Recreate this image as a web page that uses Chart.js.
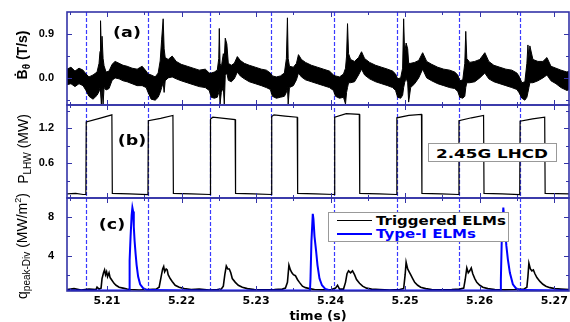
<!DOCTYPE html>
<html>
<head>
<meta charset="utf-8">
<script src="https://cdn.jsdelivr.net/npm/chart.js@4.4.1/dist/chart.umd.min.js"></script>
<style>
  html, body { margin: 0; padding: 0; background: #fff; }
  #wrap { position: relative; width: 570px; height: 322px; overflow: hidden; }
  #wrap canvas { position: absolute; left: 0; top: 0; }
  .ytitle { position: absolute; white-space: nowrap; line-height: 1; color: #000;
            font-family: "Liberation Sans", Arial, sans-serif; font-size: 14px;
            transform: translate(-50%, -50%) rotate(-90deg); }
  .ytitle sub { font-size: 10px; vertical-align: -3px; }
  .ytitle sup { font-size: 9px; vertical-align: 6px; }
  .tag { position: absolute; white-space: nowrap; line-height: 1; color: #000;
         font: bold 14px "DejaVu Sans", sans-serif;
         transform: translate(-50%, -50%) scaleX(1.25); }
  .box { position: absolute; background: #fff; border: 1px solid #999; box-sizing: border-box; }
  .leg-line { position: absolute; height: 0; }
  .leg-text { position: absolute; white-space: nowrap; line-height: 1;
              font: bold 12px "DejaVu Sans", sans-serif; transform-origin: 0 50%;
              transform: translateY(-50%) scaleX(1.25); }
</style>
</head>
<body>
<div id="wrap">
  <canvas id="chart" width="570" height="322"></canvas>

  <div class="ytitle" style="left:23px; top:55px; font-weight:bold;">&#7682;<sub>&theta;</sub> (T/s)</div>
  <div class="ytitle" style="left:24px; top:149px;">P<sub>LHW</sub> (MW)</div>
  <div class="ytitle" style="left:23px; top:246px;">q<sub>peak-Div</sub> (MW/m<sup>2</sup>)</div>

  <div class="tag" style="left:127px; top:32px;">(a)</div>
  <div class="tag" style="left:132px; top:140px;">(b)</div>
  <div class="tag" style="left:112px; top:224px;">(c)</div>

  <div class="box" style="left:428px; top:143px; width:129px; height:19px;"></div>
  <div class="tag" style="left:492px; top:152.5px; font-size:13px; transform:translate(-50%,-50%) scaleX(1.29);">2.45G LHCD</div>

  <div class="box" style="left:328px; top:212px; width:181px; height:30px;"></div>
  <div class="leg-line" style="left:337px; top:220px; width:35px; border-top:1.5px solid #000;"></div>
  <div class="leg-text" style="left:376px; top:221px; color:#000;">Triggered ELMs</div>
  <div class="leg-line" style="left:337px; top:232.5px; width:35px; border-top:2px solid #0000ff;"></div>
  <div class="leg-text" style="left:376px; top:233.5px; color:#0000ff;">Type-I ELMs</div>
</div>

<script>
// time values are written as ms after 5.2 s
const T0 = 5.2;

// LHCD switch-on times (blue dashed markers)
const lhcdOnMs = [7.19, 15.52, 23.86, 32.06, 40.52, 48.86, 57.19, 65.39];

// (a) dB/dt signal, read as the upper and lower edge of the noisy trace
const bdotMs = [4.64,5.17,5.71,6.25,6.79,7.19,7.59,8.13,8.67,8.94,9.07,9.14,9.25,9.34,9.48,9.61,9.88,10.28,10.69,11.09,11.63,12.16,12.70,13.37,14.05,14.72,15.26,15.52,
  15.93,16.47,16.87,17.14,17.34,17.54,17.67,17.81,18.21,18.75,19.29,19.96,20.77,21.57,22.38,23.19,23.72,
  23.99,24.40,24.80,25.00,25.07,25.17,25.34,25.61,25.74,25.87,26.08,26.28,26.68,27.08,27.49,27.89,28.43,29.10,29.91,30.71,31.38,31.92,
  32.19,32.73,33.27,33.80,34.07,34.21,34.31,34.48,35.01,35.42,35.69,36.09,36.63,37.43,38.24,39.05,39.85,40.39,
  40.66,41.20,41.73,42.00,42.14,42.27,42.41,42.68,43.21,43.75,44.15,44.56,45.23,46.04,46.84,47.65,48.32,48.72,
  48.99,49.40,49.66,49.80,49.93,50.13,50.34,50.47,50.74,51.28,51.82,52.35,52.89,53.56,54.37,55.18,55.98,56.65,57.06,
  57.33,57.73,58.00,58.13,58.27,58.67,59.34,60.01,60.69,61.22,61.90,62.70,63.51,64.31,64.99,65.26,
  65.66,66.06,66.33,66.47,66.60,66.73,67.14,67.81,68.48,69.02,69.56,70.23,70.90,71.71,71.98];
const bdotHi = [.18,.22,.14,.20,.16,.08,.02,.06,.12,.30,.55,1.18,.50,.86,.40,.25,.12,.14,.28,.34,.30,.26,.24,.20,.18,.24,.14,.08,
  .06,.02,.10,.35,.80,1.22,.60,.42,.38,.45,.34,.28,.24,.20,.16,.18,.10,
  .10,.12,.16,.40,1.02,.30,.22,.50,.40,.82,.70,.30,.26,.30,.44,.36,.30,.26,.22,.18,.16,.10,
  .04,.02,.04,.10,.40,1.24,.40,.24,.22,.30,.48,.38,.32,.26,.22,.18,.14,.06,
  .04,.02,.08,.20,.45,1.12,.50,.38,.34,.42,.54,.40,.32,.26,.22,.18,.14,.08,
  -.02,.00,.20,1.22,.50,.72,.60,.30,.30,.32,.36,.52,.34,.28,.22,.18,.16,.12,.06,
  -.06,-.04,.30,.96,.40,.32,.34,.38,.52,.34,.26,.22,.18,.16,.10,.04,
  -.10,-.08,.30,.68,.40,.66,.38,.34,.34,.42,.24,.20,.16,.12,.14];
const bdotLo = [-.14,-.12,-.18,-.12,-.16,-.26,-.38,-.44,-.36,-.28,-.20,-.30,-.54,-.20,-.54,-.20,-.25,-.22,-.05,.00,-.02,-.06,-.08,-.12,-.16,-.16,-.20,-.30,
  -.44,-.46,-.40,-.30,-.20,-.10,-.30,-.06,.00,.02,-.02,-.06,-.10,-.14,-.18,-.20,-.26,
  -.40,-.42,-.40,-.30,-.20,-.54,-.30,-.20,-.54,.05,.10,-.05,-.08,-.02,.12,.04,-.02,-.08,-.12,-.16,-.20,-.24,
  -.38,-.42,-.40,-.38,-.30,-.20,-.54,-.20,-.16,-.04,.10,.02,-.04,-.08,-.12,-.16,-.20,-.26,
  -.38,-.42,-.40,-.54,-.30,-.20,-.10,-.10,-.08,.06,.18,.06,-.02,-.08,-.12,-.16,-.20,-.26,
  -.40,-.42,-.36,-.20,-.10,.00,-.10,-.50,-.20,-.12,.00,.18,.00,-.06,-.12,-.16,-.20,-.22,-.28,
  -.40,-.42,-.38,-.20,-.10,-.10,-.08,.00,.10,-.02,-.08,-.12,-.16,-.20,-.24,-.30,
  -.42,-.46,-.40,-.30,-.20,-.10,-.10,-.06,.00,.06,-.06,-.12,-.20,-.26,-.24];

// (b) LHW power (MW)
const lhwMs = [4.64,5.8,6.8,7.17,7.22,9.0,10.66,10.72,13.0,15.50,15.55,17.2,18.85,18.91,21.3,23.84,23.89,24.2,25.7,27.19,27.25,29.7,
  32.05,32.10,32.4,33.9,35.52,35.58,38.0,40.50,40.55,42.1,43.85,43.91,46.5,48.84,48.89,50.5,52.19,52.25,54.8,
  57.17,57.22,58.9,60.52,60.58,63.0,65.37,65.42,67.1,68.72,68.78,71.98];
const lhwPower = [.07,.08,.06,.06,1.31,1.37,1.43,.08,.07,.06,1.33,1.37,1.42,.08,.07,.06,1.36,1.39,1.37,1.35,.08,.07,
  .06,1.40,1.43,1.41,1.39,.08,.07,.06,1.39,1.45,1.44,.08,.07,.06,1.38,1.42,1.44,.08,.07,
  .06,1.33,1.38,1.42,.08,.07,.06,1.32,1.36,1.39,.08,.07];

// (c) peak divertor heat flux (MW/m^2)
const trigMs = [4.64,5.58,6.52,7.59,8.53,8.67,8.94,9.21,9.34,9.54,9.68,9.81,9.95,10.08,10.28,10.42,10.69,10.95,11.22,11.63,12.16,12.70,13.10,
  14.31,15.66,16.60,17.00,17.27,17.47,17.61,17.74,17.94,18.08,18.21,18.48,18.75,19.15,19.69,20.36,21.30,22.38,23.72,24.80,
  25.34,25.61,25.81,26.01,26.21,26.41,26.61,26.81,27.22,27.62,28.16,28.83,29.77,31.12,32.46,33.53,33.94,
  34.21,34.41,34.61,34.81,35.01,35.28,35.55,35.82,36.22,36.63,37.16,37.84,39.18,40.12,40.66,40.93,41.20,41.73,
  42.00,42.20,42.41,42.68,42.94,43.21,43.48,43.88,44.29,44.82,45.50,46.57,47.92,49.26,49.80,
  50.00,50.13,50.34,50.54,50.74,51.01,51.28,51.68,52.08,52.76,53.56,54.91,56.25,57.33,57.86,
  58.06,58.27,58.47,58.67,58.87,59.07,59.34,59.61,60.01,60.42,61.09,62.03,63.37,64.72,65.93,66.33,
  66.47,66.60,66.80,67.00,67.20,67.41,67.67,68.08,68.48,68.88,69.42,70.09,70.90,71.98];
const trigQ = [.45,.55,.40,.50,.45,.70,.50,.60,1.6,2.2,2.5,2.0,2.3,1.8,2.2,1.7,1.4,1.1,.9,.7,.6,.5,.45,
  .40,.45,.50,.70,1.8,2.6,2.85,2.3,2.6,2.5,2.0,1.6,1.3,.9,.7,.55,.45,.50,.40,.45,
  .50,.80,2.0,2.9,2.6,2.6,2.2,1.6,1.2,.9,.7,.55,.45,.42,.45,.50,.60,
  1.2,3.0,2.5,2.2,2.0,1.9,1.5,1.2,.8,.65,.55,.45,.42,.45,.60,.90,.50,.50,
  1.2,2.1,2.4,2.2,2.4,2.0,1.5,1.1,.8,.6,.5,.45,.40,.45,.55,
  2.0,3.3,2.6,2.3,2.0,1.6,1.2,.9,.7,.55,.45,.42,.45,.50,.60,
  1.5,2.7,2.2,2.4,2.7,2.1,1.6,1.2,.9,.7,.55,.45,.42,.45,.50,.70,
  1.8,3.2,2.6,2.4,2.5,2.1,1.7,1.3,1.0,.8,.65,.55,.50,.45];
const typeIMs = [4.64,8.94,12.97,13.04,13.17,13.31,13.41,13.51,13.60,13.71,13.84,13.98,14.18,14.45,14.85,15.39,22.38,29.10,
  37.23,37.30,37.43,37.61,37.70,37.84,38.04,38.24,38.51,38.84,39.31,39.85,49.26,
  62.77,62.84,62.97,63.17,63.37,63.58,63.78,64.05,64.45,64.85,65.39,71.98];
const typeIQ = [.35,.35,.35,3.5,6.0,8.2,9.0,8.6,7.0,5.5,4.2,3.0,1.8,1.0,.6,.4,.35,.35,
  .35,1.5,5.5,8.35,7.8,6.0,4.6,3.0,1.6,.9,.5,.38,.35,
  .35,1.5,6.0,9.0,7.0,5.0,3.6,2.2,1.0,.6,.4,.35];

// axis ticks
const xTickValues = [5.21, 5.22, 5.23, 5.24, 5.25, 5.26, 5.27];
const xMinorValues = [5.205, 5.215, 5.225, 5.235, 5.245, 5.255, 5.265];
const yaLabels = [0, 0.9], yaMarks = [-0.45, 0.45];
const ybLabels = [0.6, 1.2], ybMarks = [0.3, 0.9, 1.5];
const ycLabels = [4, 8], ycMarks = [2, 6];

const frameColor = '#3434a8';
const dashColor = '#3a3aff';

function pts(ms, vals) {
  return ms.map((m, i) => ({ x: T0 + m / 1000, y: vals[i] }));
}

const panelDecor = {
  id: 'panelDecor',
  beforeDatasetsDraw(chart) {
    const { ctx, scales } = chart;
    const x = scales.x;
    ctx.save();
    ctx.strokeStyle = dashColor;
    ctx.lineWidth = 1.2;
    ctx.setLineDash([4, 2]);
    lhcdOnMs.forEach(m => {
      const px = Math.round(x.getPixelForValue(T0 + m / 1000)) + 0.5;
      ctx.beginPath();
      ctx.moveTo(px, scales.ya.top);
      ctx.lineTo(px, scales.yc.bottom);
      ctx.stroke();
    });
    ctx.restore();
  },
  afterDatasetsDraw(chart) {
    const { ctx, scales } = chart;
    const x = scales.x;
    const L = x.left, R = x.right;
    ctx.save();
    ctx.strokeStyle = frameColor;
    ctx.lineWidth = 1;
    const panels = [[scales.ya, yaLabels, yaMarks], [scales.yb, ybLabels, ybMarks], [scales.yc, ycLabels, ycMarks]];
    panels.forEach(([s, major, minor]) => {
      ctx.beginPath();
      const tick = (v, len) => {
        const py = Math.round(s.getPixelForValue(v)) + 0.5;
        ctx.moveTo(L, py); ctx.lineTo(L + len, py);
        ctx.moveTo(R, py); ctx.lineTo(R - len, py);
      };
      major.forEach(v => tick(v, 5));
      minor.forEach(v => tick(v, 3));
      const xt = (v, len) => {
        const px = Math.round(x.getPixelForValue(v)) + 0.5;
        ctx.moveTo(px, s.top); ctx.lineTo(px, s.top + len);
        ctx.moveTo(px, s.bottom); ctx.lineTo(px, s.bottom - len);
      };
      xTickValues.forEach(v => xt(v, 5));
      xMinorValues.forEach(v => xt(v, 3));
      ctx.stroke();
    });
    ctx.lineWidth = 1.6;
    panels.forEach(([s]) => {
      ctx.strokeRect(L, s.top, R - L, s.bottom - s.top);
    });
    ctx.restore();
  }
};

const tickFont = { family: '"Liberation Sans", Arial, sans-serif', size: 11, weight: 'bold' };
function yScale(min, max, labels, digits) {
  return {
    type: 'linear', position: 'left', stack: 'panels', stackWeight: 1,
    min: min, max: max,
    grid: { display: false, drawTicks: false },
    border: { display: false },
    afterBuildTicks: s => { s.ticks = labels.map(v => ({ value: v })); },
    afterFit: s => { s.width = 67; s.paddingTop = 0; s.paddingBottom = 0; },
    ticks: { color: '#000', font: tickFont, padding: 13,
             callback: v => Number(v).toFixed(digits) }
  };
}

new Chart(document.getElementById('chart'), {
  type: 'line',
  data: {
    datasets: [
      { label: 'Type-I ELMs', data: pts(typeIMs, typeIQ), yAxisID: 'yc',
        borderColor: '#0000ff', borderWidth: 2, pointRadius: 0, fill: false },
      { label: 'Triggered ELMs', data: pts(trigMs, trigQ), yAxisID: 'yc',
        borderColor: '#000', borderWidth: 1.6, pointRadius: 0, fill: false },
      { label: 'Bdot upper', data: pts(bdotMs, bdotHi), yAxisID: 'ya',
        borderColor: '#000', backgroundColor: '#000', borderWidth: 1, pointRadius: 0, fill: '+1' },
      { label: 'Bdot lower', data: pts(bdotMs, bdotLo), yAxisID: 'ya',
        borderColor: '#000', borderWidth: 1, pointRadius: 0, fill: false },
      { label: 'P_LHW', data: pts(lhwMs, lhwPower), yAxisID: 'yb',
        borderColor: '#000', borderWidth: 1.2, pointRadius: 0, fill: false }
    ]
  },
  options: {
    responsive: false,
    animation: false,
    devicePixelRatio: 1,
    layout: { padding: { left: 0, right: 1, top: 12, bottom: 0 } },
    plugins: { legend: { display: false }, tooltip: { enabled: false } },
    scales: {
      x: {
        type: 'linear', position: 'bottom',
        min: T0 + 4.64 / 1000, max: T0 + 71.98 / 1000,
        grid: { display: false, drawTicks: false },
        border: { display: false },
        afterBuildTicks: s => { s.ticks = xTickValues.map(v => ({ value: v })); },
        afterFit: s => { s.height = 31; s.paddingLeft = 0; s.paddingRight = 0; },
        ticks: { color: '#000', padding: 4, maxRotation: 0,
                 font: { family: '"DejaVu Sans", sans-serif', size: 11, weight: 'bold' },
                 callback: v => Number(v).toFixed(2) },
        title: { display: true, text: 'time (s)', color: '#000', padding: 0,
                 font: { family: '"DejaVu Sans", sans-serif', size: 13, weight: 'bold', lineHeight: 0.82 } }
      },
      // stacked panels are laid out bottom-up in definition order
      yc: yScale(0.3, 10, ycLabels, 0),
      yb: yScale(0, 1.6, ybLabels, 1),
      ya: yScale(-0.56, 1.36, yaLabels, 1)
    }
  },
  plugins: [panelDecor]
});
</script>
</body>
</html>
